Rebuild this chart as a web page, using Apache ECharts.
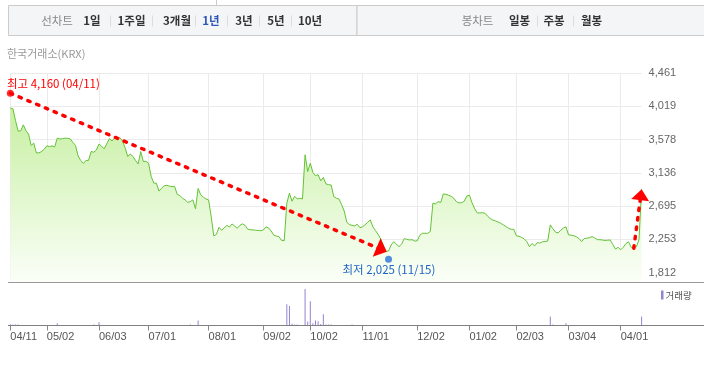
<!DOCTYPE html>
<html><head><meta charset="utf-8">
<script src="https://cdn.jsdelivr.net/npm/echarts@6/dist/echarts.min.js"></script>
<style>html,body{margin:0;padding:0;background:#fff;}#c{width:704px;height:386px;}</style>
</head><body><div id="c"></div>
<script>
// trading calendar (KRX), one year
const months = ['2024/04','2024/05','2024/06','2024/07','2024/08','2024/09','2024/10','2024/11','2024/12','2025/01','2025/02','2025/03','2025/04'];
const monthDays = [
 [11,12,15,16,17,18,19,22,23,24,25,26,29,30],
 [2,3,7,8,9,10,13,14,16,17,20,21,22,23,24,27,28,29,30,31],
 [3,4,5,7,10,11,12,13,14,17,18,19,20,21,24,25,26,27,28],
 [1,2,3,4,5,8,9,10,11,12,15,16,17,18,19,22,23,24,25,26,29,30,31],
 [1,2,5,6,7,8,9,12,13,14,16,19,20,21,22,23,26,27,28,29,30],
 [2,3,4,5,6,9,10,11,12,13,19,20,23,24,25,26,27,30],
 [2,4,7,8,10,11,14,15,16,17,18,21,22,23,24,25,28,29,30,31],
 [1,4,5,6,7,8,11,12,13,14,15,18,19,20,21,22,25,26,27,28,29],
 [2,3,4,5,6,9,10,11,12,13,16,17,18,19,20,23,24,26,27,30],
 [2,3,6,7,8,9,10,13,14,15,16,17,20,21,22,23,24,31],
 [3,4,5,6,7,10,11,12,13,14,17,18,19,20,21,24,25,26,27,28],
 [4,5,6,7,10,11,12,13,14,17,18,19,20,21,24,25,26,27,28,31],
 [1,2,3,4,7,8,9,10,11]
];
const dates = [];
months.forEach((m, i) => monthDays[i].forEach(d => dates.push(m + '/' + String(d).padStart(2, '0'))));

const tickDates = ['2024/04/11','2024/05/02','2024/06/03','2024/07/01','2024/08/01','2024/09/02','2024/10/02','2024/11/01','2024/12/02','2025/01/02','2025/02/03','2025/03/04','2025/04/01'];
const yTicks = [1812, 2253, 2695, 3136, 3578, 4019, 4461];

const prices = [
3996,3987,3830,3690,3695,3774,3695,3650,3500,3531,
3400,3402,3420,3450,3495,3485,3495,3480,3597,3585,
3590,3597,3595,3586,3540,3500,3360,3300,3260,3300,
3302,3420,3410,3440,3518,3490,3455,3525,3590,3560,
3600,3585,3605,3560,3470,3355,3385,3355,3300,3255,
3420,3287,3290,3265,3090,3000,2999,2895,2933,2965,
2972,2960,2955,2955,2850,2835,2800,2778,2745,2755,
2778,2660,2930,2845,2815,2790,2778,2560,2300,2320,
2415,2375,2405,2440,2418,2458,2432,2402,2440,2460,
2440,2390,2382,2380,2375,2372,2370,2379,2420,2405,
2365,2310,2298,2290,2240,2237,2734,2867,2760,2825,
2790,2800,2790,3376,3154,3265,3140,3100,3111,3030,
3075,2990,2980,2975,2822,2800,2790,2715,2630,2480,
2450,2440,2432,2455,2410,2420,2448,2480,2512,2420,
2370,2320,2260,2175,2095,2100,2180,2224,2190,2158,
2190,2265,2255,2246,2250,2232,2235,2310,2335,2335,
2335,2360,2734,2725,2755,2745,2858,2852,2840,2825,
2800,2755,2738,2740,2760,2830,2840,2740,2660,2605,
2605,2608,2600,2560,2530,2510,2498,2485,2468,2446,
2425,2400,2388,2388,2300,2295,2280,2260,2224,2158,
2200,2167,2210,2205,2222,2225,2232,2446,2395,2350,
2340,2375,2405,2420,2313,2310,2302,2290,2265,2224,
2265,2270,2275,2291,2275,2250,2250,2245,2240,2243,
2246,2185,2125,2149,2115,2150,2200,2222,2150,2136,
2155,2250,2920];

const volumeDates = ['2024/04/11','2024/04/12','2024/04/15','2024/04/16','2024/05/09','2024/05/30','2024/06/03','2024/07/23','2024/07/26','2024/09/13','2024/09/19','2024/09/20','2024/09/23','2024/09/24','2024/09/27','2024/09/30','2024/10/02','2024/10/04','2024/10/07','2024/10/08','2024/10/10','2024/10/11','2024/10/14','2024/10/15','2024/10/16','2024/10/28','2025/02/20','2025/02/21','2025/02/28','2025/04/11'];
const volumeValues = [120000,100000,100000,90000,230000,100000,330000,90000,500000,2100000,1930000,170000,100000,100000,3600000,400000,2400000,230000,500000,430000,150000,1100000,100000,100000,100000,90000,900000,90000,230000,900000];

const highPoint = { date: '2024/04/11', value: 4160, text: '최고 4,160 (04/11)' };
const lowPoint = { date: '2024/11/15', value: 2025, text: '최저 2,025 (11/15)' };
const trendFrom = '2025/04/08'; // short-term rebound arrow start

const lineTabs = ['1일','1주일','3개월','1년','3년','5년','10년'];
const candleTabs = ['일봉','주봉','월봉'];

const KR = "'Noto Sans CJK KR', sans-serif";
const chart = echarts.init(document.getElementById('c'), null, { renderer: 'canvas' });
const isTick = (i, v) => tickDates.indexOf(v) >= 0;

chart.setOption({
  animation: false,
  grid: [
    { left: 10.3, right: 62.4, top: 73, height: 209.5 },
    { left: 10.3, right: 62.4, top: 285, height: 40.5 }
  ],
  xAxis: [
    { type: 'category', gridIndex: 0, data: dates, boundaryGap: false,
      axisLine: { show: false }, axisTick: { show: false }, axisLabel: { show: false },
      splitLine: { show: true, interval: isTick, lineStyle: { color: '#ebebeb', width: 1 } } },
    { type: 'category', gridIndex: 1, data: dates, boundaryGap: false,
      axisLine: { show: false },
      axisTick: { show: true, interval: isTick, length: 5, lineStyle: { color: '#888' } },
      axisLabel: { show: true, interval: isTick, align: 'left', margin: 6, color: '#555',
        fontSize: 11, fontFamily: 'Liberation Sans', formatter: v => v.slice(5) },
      splitLine: { show: false } }
  ],
  yAxis: [
    { type: 'value', gridIndex: 0, position: 'right', min: 1682, max: 4461,
      axisLine: { show: false },
      axisTick: { show: false, customValues: yTicks },
      axisLabel: { customValues: yTicks, margin: 7, color: '#666', fontSize: 11, fontFamily: 'Liberation Sans',
        formatter: v => Math.round(v).toLocaleString('en-US') },
      splitLine: { show: true, lineStyle: { color: '#ebebeb', width: 1 } } },
    { type: 'value', gridIndex: 1, min: 0, max: 4000000, show: false, splitLine: { show: false } }
  ],
  series: [
    { type: 'line', xAxisIndex: 0, yAxisIndex: 0, data: prices, symbol: 'none',
      lineStyle: { color: '#63c236', width: 1 },
      areaStyle: { color: new echarts.graphic.LinearGradient(0, 73, 0, 282.5, [
        { offset: 0, color: '#bdec92' }, { offset: 1, color: '#fbfff8' }], true), opacity: 1 },
      z: 2 },
    { type: 'bar', xAxisIndex: 1, yAxisIndex: 1, barWidth: 1,
      data: volumeDates.map((d, i) => [d, volumeValues[i]]),
      itemStyle: { color: '#9683d0' } },
    { type: 'scatter', xAxisIndex: 0, yAxisIndex: 0, symbolSize: 7, z: 30,
      data: [
        { value: [dates.indexOf(highPoint.date), highPoint.value], symbolOffset: [0, -2.5], itemStyle: { color: '#ff0000' } },
        { value: [dates.indexOf(lowPoint.date), lowPoint.value], symbolOffset: [0, 2.6], itemStyle: { color: '#2a72d8' } }
      ] }
  ]
});

function px(i, v) { return chart.convertToPixel({ xAxisIndex: 0, yAxisIndex: 0 }, [i, v]); }
function arrow(s, e, headLen, halfW) {
  const dx = e[0] - s[0], dy = e[1] - s[1], L = Math.hypot(dx, dy), ux = dx / L, uy = dy / L;
  const bx = e[0] - ux * headLen, by = e[1] - uy * headLen;
  return [
    { type: 'line', z: 40, shape: { x1: s[0], y1: s[1], x2: e[0] - ux * headLen * 0.8, y2: e[1] - uy * headLen * 0.8 },
      style: { stroke: '#ff0000', lineWidth: 3.5, lineDash: [2.5, 7], lineCap: 'round' } },
    { type: 'polygon', z: 41, shape: { points: [[e[0], e[1]], [bx - uy * halfW, by + ux * halfW], [bx + uy * halfW, by - ux * halfW]] },
      style: { fill: '#ff0000' } }
  ];
}
const hiIdx = dates.indexOf(highPoint.date), loIdx = dates.indexOf(lowPoint.date);
const hp = px(hiIdx, highPoint.value), lp = px(loIdx, lowPoint.value);
const tIdx = dates.indexOf(trendFrom), lastIdx = prices.length - 1;
const ts = px(tIdx, prices[tIdx]), te = px(lastIdx, prices[lastIdx]);

const g = [];
// top tab bar
g.push({ type: 'line', shape: { x1: 216.5, y1: 0, x2: 216.5, y2: 5 }, style: { stroke: '#cccccc', lineWidth: 1 } });
g.push({ type: 'rect', shape: { x: 8.5, y: 5.5, width: 348.5, height: 30 }, style: { fill: '#f4f5f7', stroke: '#cbcbcb', lineWidth: 1 } });
g.push({ type: 'rect', shape: { x: 357, y: 5.5, width: 352, height: 30 }, style: { fill: '#f4f5f7', stroke: '#cbcbcb', lineWidth: 1 } });
function tabText(t, x, color, bold) {
  g.push({ type: 'text', x: x, y: 21, z: 5, style: { text: t, fill: color, font: (bold ? 'bold ' : '') + '11.5px ' + KR, align: 'center', verticalAlign: 'middle' } });
}
function sep(x) { g.push({ type: 'line', z: 5, shape: { x1: x, y1: 15.5, x2: x, y2: 26.5 }, style: { stroke: '#dddddd', lineWidth: 1 } }); }
tabText('선차트', 57, '#888', false);
const lineTabX = [92, 131.5, 177, 211, 244, 276, 310];
lineTabs.forEach((t, i) => tabText(t, lineTabX[i], t === '1년' ? '#2d56b9' : '#333', true));
[110.5, 152.5, 195.5, 227.5, 259.5, 291.5].forEach(sep);
tabText('봉차트', 477.5, '#888', false);
const candleTabX = [519.5, 554, 591.5];
candleTabs.forEach((t, i) => tabText(t, candleTabX[i], '#333', true));
[537.5, 573.5].forEach(sep);
// source label
g.push({ type: 'text', x: 7, y: 54, style: { text: '한국거래소(KRX)', fill: '#999', font: '11px ' + KR, align: 'left', verticalAlign: 'middle' } });
// panel separator lines
g.push({ type: 'line', z: 10, shape: { x1: 8, y1: 282.5, x2: 704, y2: 282.5 }, style: { stroke: '#9a9a9a', lineWidth: 1 } });
g.push({ type: 'line', z: 10, shape: { x1: 8, y1: 325.5, x2: 704, y2: 325.5 }, style: { stroke: '#808080', lineWidth: 1 } });
// volume legend
g.push({ type: 'rect', shape: { x: 661, y: 290.5, width: 2.5, height: 9 }, style: { fill: '#9683d0' } });
g.push({ type: 'text', x: 665.5, y: 295.5, style: { text: '거래량', fill: '#555', font: '9.5px ' + KR, align: 'left', verticalAlign: 'middle' } });
// annotations
g.push.apply(g, arrow([hp[0], hp[1] - 2.5], [lp[0] - 1.8, lp[1] - 4.9], 11, 10));
g.push.apply(g, arrow([ts[0], ts[1]], [te[0], te[1]], 11, 9));
g.push({ type: 'text', z: 45, x: hp[0] - 3.3, y: hp[1] - 12.4, style: { text: highPoint.text, fill: '#ff0000', font: '11.5px ' + KR, align: 'left', verticalAlign: 'middle' } });
g.push({ type: 'text', z: 45, x: lp[0] + 0.3, y: lp[1] + 12.7, style: { text: lowPoint.text, fill: '#1f63c6', font: '11.5px ' + KR, align: 'center', verticalAlign: 'middle' } });

chart.setOption({ graphic: g });
</script>
</body></html>
